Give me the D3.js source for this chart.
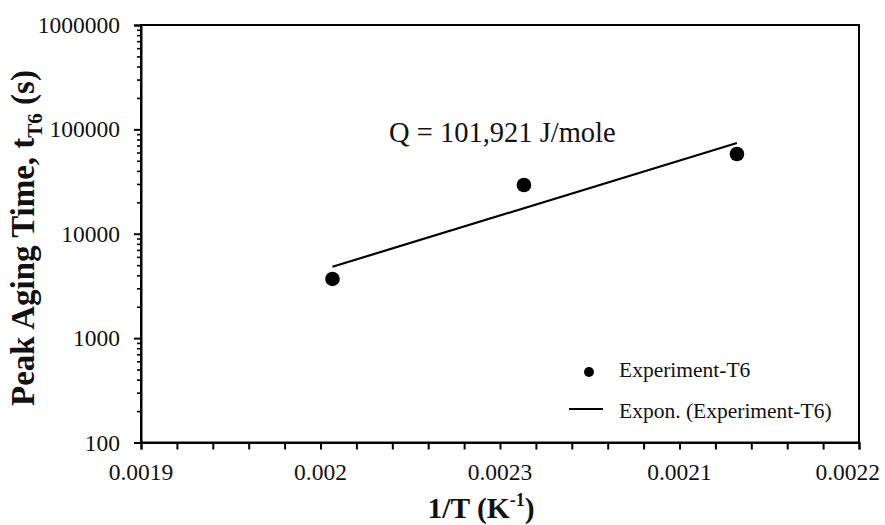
<!DOCTYPE html>
<html>
<head>
<meta charset="utf-8">
<script src="https://cdn.jsdelivr.net/npm/d3@7/dist/d3.min.js"></script>
<style>
  html, body { margin: 0; padding: 0; background: #fff; }
  svg { display: block; }
  svg text { font-family: "Liberation Serif", "Times New Roman", serif; }
</style>
</head>
<body>
<svg id="chart" width="885" height="525"></svg>
<script>
// Peak aging time (T6) against inverse temperature
const invTemp = [0.00198, 0.00206, 0.002149];      // 1/T (K^-1)
const peakTime = [3690, 29300, 58100];              // t_T6 (s)

const xTickValues = [0.0019, 0.001975, 0.00205, 0.002125, 0.0022];
const xTickLabels = ["0.0019", "0.002", "0.0023", "0.0021", "0.0022"];
const yTickValues = [100, 1000, 10000, 100000, 1000000];
const yTickLabels = ["100", "1000", "10000", "100000", "1000000"];

const seriesName = "Experiment-T6";
const fitName = "Expon. (Experiment-T6)";
const annotation = "Q = 101,921 J/mole";

const W = 885, H = 525;
const margin = { top: 25, right: 26, bottom: 82.5, left: 141 };
const svg = d3.select("#chart");

const x = d3.scaleLinear().domain([0.0019, 0.0022]).range([margin.left, W - margin.right]);
const y = d3.scaleLog().domain([100, 1000000]).range([H - margin.bottom, margin.top]);

// Frame
svg.append("rect")
  .attr("x", margin.left).attr("y", margin.top)
  .attr("width", W - margin.left - margin.right)
  .attr("height", H - margin.top - margin.bottom)
  .attr("fill", "none").attr("stroke", "#000").attr("stroke-width", 2);

// X axis: minor ticks every 0.000015, labelled every fifth
const xMinor = d3.range(0, 21).map(i => 0.0019 + i * 0.000015);
const gx = svg.append("g")
  .attr("transform", `translate(0,${H - margin.bottom})`)
  .call(d3.axisBottom(x).tickValues(xMinor).tickSize(7).tickFormat(() => ""));
gx.select(".domain").attr("stroke-width", 2);
gx.selectAll(".tick line").attr("stroke-width", 2);

const xLabels = svg.append("g").selectAll("text")
  .data(xTickValues)
  .join("text")
  .attr("x", d => x(d))
  .attr("y", 480)
  .attr("text-anchor", "middle")
  .attr("font-size", 23.5)
  .attr("fill", "#111")
  .text((d, i) => xTickLabels[i]);
// keep the last label inside the canvas
xLabels.each(function () {
  const b = this.getBBox();
  const over = b.x + b.width - (W - 5);
  if (over > 0) d3.select(this).attr("x", +d3.select(this).attr("x") - over);
});

// Y axis: log scale, majors at each decade, minors at 2..9
const yMinor = [];
for (let e = 2; e < 6; e++) for (let k = 2; k <= 9; k++) yMinor.push(k * Math.pow(10, e));
const gyMinor = svg.append("g")
  .attr("transform", `translate(${margin.left},0)`)
  .call(d3.axisLeft(y).tickValues(yMinor).tickSize(4).tickFormat(() => ""));
gyMinor.select(".domain").remove();
gyMinor.selectAll(".tick line").attr("stroke-width", 1.6);

const gy = svg.append("g")
  .attr("transform", `translate(${margin.left},0)`)
  .call(d3.axisLeft(y).tickValues(yTickValues).tickSize(7).tickPadding(14)
    .tickFormat((d, i) => yTickLabels[i]));
gy.attr("font-family", null).attr("font-size", null);
gy.select(".domain").attr("stroke-width", 2);
gy.selectAll(".tick line").attr("stroke-width", 2);
gy.selectAll(".tick text")
  .attr("font-size", 23.5)
  .attr("fill", "#111");

// Exponential trend line: least squares fit of ln(t) on 1/T
const n = invTemp.length;
const lnT = peakTime.map(v => Math.log(v));
const mx = d3.mean(invTemp), my = d3.mean(lnT);
let sxy = 0, sxx = 0;
for (let i = 0; i < n; i++) {
  sxy += (invTemp[i] - mx) * (lnT[i] - my);
  sxx += (invTemp[i] - mx) ** 2;
}
const slope = sxy / sxx, intercept = my - slope * mx;
const fitPts = d3.extent(invTemp).map(v => [v, Math.exp(intercept + slope * v)]);

svg.append("path")
  .datum(fitPts)
  .attr("d", d3.line().x(d => x(d[0])).y(d => y(d[1])))
  .attr("fill", "none")
  .attr("stroke", "#000")
  .attr("stroke-width", 2.2);

// Experimental points
svg.append("g").selectAll("circle")
  .data(invTemp.map((v, i) => [v, peakTime[i]]))
  .join("circle")
  .attr("cx", d => x(d[0]))
  .attr("cy", d => y(d[1]))
  .attr("r", 7.3)
  .attr("fill", "#000");

// Activation energy annotation
svg.append("text")
  .attr("x", 389).attr("y", 142)
  .attr("font-size", 28.5)
  .attr("fill", "#111")
  .text(annotation);

// Legend
const lg = svg.append("g");
lg.append("circle").attr("cx", 589).attr("cy", 372).attr("r", 5).attr("fill", "#000");
lg.append("text").attr("x", 619).attr("y", 377).attr("font-size", 21.5).attr("fill", "#111").text(seriesName);
lg.append("line").attr("x1", 569).attr("x2", 603).attr("y1", 409).attr("y2", 409)
  .attr("stroke", "#000").attr("stroke-width", 2);
lg.append("text").attr("x", 619).attr("y", 418).attr("font-size", 21.5).attr("fill", "#111").text(fitName);

// Axis titles
const xt = svg.append("text")
  .attr("x", 481).attr("y", 518)
  .attr("text-anchor", "middle")
  .attr("font-size", 29.5).attr("font-weight", "bold").attr("fill", "#111");
xt.append("tspan").text("1/T (K");
xt.append("tspan").attr("font-size", 18).attr("dy", -12).text("-1");
xt.append("tspan").attr("dy", 12).text(")");

const yt = svg.append("text")
  .attr("transform", "translate(34,238) rotate(-90)")
  .attr("text-anchor", "middle")
  .attr("font-size", 33).attr("font-weight", "bold").attr("fill", "#111");
yt.append("tspan").text("Peak Aging Time, t");
yt.append("tspan").attr("font-size", 21).attr("dy", 8).text("T6");
yt.append("tspan").attr("dy", -8).text(" (s)");
</script>
</body>
</html>
